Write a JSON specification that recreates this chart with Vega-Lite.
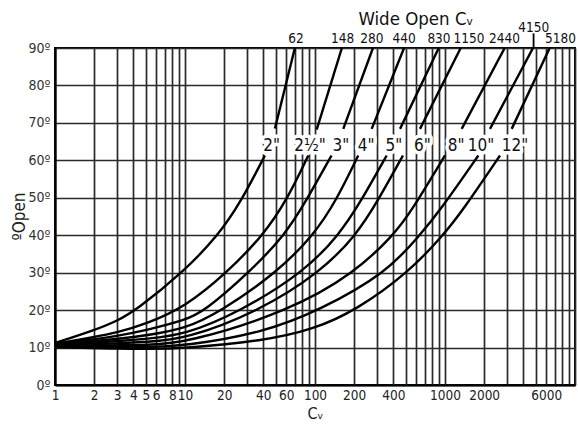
{
  "$schema": "https://vega.github.io/schema/vega-lite/v6.json",
  "width": 520,
  "height": 337,
  "autosize": {"type": "none"},
  "padding": {"left": 55, "top": 48, "right": 3, "bottom": 39},
  "background": "white",
  "config": {
    "view": {"stroke": "black", "strokeWidth": 2},
    "font": "DejaVu Sans Condensed, DejaVu Sans, sans-serif"
  },
  "datasets": {
    "curves": [
      {"size": "2", "part": "a", "cv": 1, "deg": 11.2},
      {"size": "2", "part": "a", "cv": 2, "deg": 14.6},
      {"size": "2", "part": "a", "cv": 3, "deg": 17.1},
      {"size": "2", "part": "a", "cv": 4.2, "deg": 20},
      {"size": "2", "part": "a", "cv": 9.6, "deg": 30},
      {"size": "2", "part": "a", "cv": 18.1, "deg": 40},
      {"size": "2", "part": "a", "cv": 27, "deg": 49},
      {"size": "2", "part": "a", "cv": 41.2, "deg": 61.3},
      {"size": "2", "part": "b", "cv": 49.2, "deg": 68.5},
      {"size": "2", "part": "b", "cv": 70, "deg": 90},

      {"size": "2.5", "part": "a", "cv": 1, "deg": 11},
      {"size": "2.5", "part": "a", "cv": 2, "deg": 12.8},
      {"size": "2.5", "part": "a", "cv": 3, "deg": 14},
      {"size": "2.5", "part": "a", "cv": 5, "deg": 16.3},
      {"size": "2.5", "part": "a", "cv": 10, "deg": 20.8},
      {"size": "2.5", "part": "a", "cv": 21, "deg": 30},
      {"size": "2.5", "part": "a", "cv": 40, "deg": 40},
      {"size": "2.5", "part": "a", "cv": 60.6, "deg": 49.3},
      {"size": "2.5", "part": "a", "cv": 88.8, "deg": 61.3},
      {"size": "2.5", "part": "b", "cv": 103, "deg": 68.2},
      {"size": "2.5", "part": "b", "cv": 161, "deg": 90},

      {"size": "3", "part": "a", "cv": 1, "deg": 10.9},
      {"size": "3", "part": "a", "cv": 2, "deg": 12.2},
      {"size": "3", "part": "a", "cv": 3, "deg": 13.1},
      {"size": "3", "part": "a", "cv": 5, "deg": 14.6},
      {"size": "3", "part": "a", "cv": 10, "deg": 17.3},
      {"size": "3", "part": "a", "cv": 14, "deg": 19.6},
      {"size": "3", "part": "a", "cv": 31, "deg": 30},
      {"size": "3", "part": "a", "cv": 58.7, "deg": 40},
      {"size": "3", "part": "a", "cv": 86, "deg": 49.3},
      {"size": "3", "part": "a", "cv": 134, "deg": 61.3},
      {"size": "3", "part": "b", "cv": 165, "deg": 68.4},
      {"size": "3", "part": "b", "cv": 279, "deg": 90},

      {"size": "4", "part": "a", "cv": 1, "deg": 10.8},
      {"size": "4", "part": "a", "cv": 2, "deg": 11.7},
      {"size": "4", "part": "a", "cv": 3, "deg": 12.3},
      {"size": "4", "part": "a", "cv": 5, "deg": 13.2},
      {"size": "4", "part": "a", "cv": 10, "deg": 15},
      {"size": "4", "part": "a", "cv": 18.6, "deg": 19.5},
      {"size": "4", "part": "a", "cv": 50.7, "deg": 30},
      {"size": "4", "part": "a", "cv": 97.6, "deg": 40},
      {"size": "4", "part": "a", "cv": 146, "deg": 49.3},
      {"size": "4", "part": "a", "cv": 215, "deg": 61.3},
      {"size": "4", "part": "b", "cv": 273, "deg": 68.4},
      {"size": "4", "part": "b", "cv": 484, "deg": 90},

      {"size": "5", "part": "a", "cv": 1, "deg": 10.7},
      {"size": "5", "part": "a", "cv": 2, "deg": 11.3},
      {"size": "5", "part": "a", "cv": 3, "deg": 11.7},
      {"size": "5", "part": "a", "cv": 5, "deg": 12.3},
      {"size": "5", "part": "a", "cv": 10, "deg": 13.4},
      {"size": "5", "part": "a", "cv": 26.5, "deg": 19.6},
      {"size": "5", "part": "a", "cv": 81, "deg": 30},
      {"size": "5", "part": "a", "cv": 153, "deg": 40},
      {"size": "5", "part": "a", "cv": 228, "deg": 49.3},
      {"size": "5", "part": "a", "cv": 356, "deg": 61.3},
      {"size": "5", "part": "b", "cv": 451, "deg": 68.4},
      {"size": "5", "part": "b", "cv": 895, "deg": 90},

      {"size": "6", "part": "a", "cv": 1, "deg": 10.6},
      {"size": "6", "part": "a", "cv": 2, "deg": 10.9},
      {"size": "6", "part": "a", "cv": 3, "deg": 11.1},
      {"size": "6", "part": "a", "cv": 5, "deg": 11.5},
      {"size": "6", "part": "a", "cv": 10, "deg": 12.2},
      {"size": "6", "part": "a", "cv": 36.6, "deg": 19.6},
      {"size": "6", "part": "a", "cv": 109, "deg": 30},
      {"size": "6", "part": "a", "cv": 208, "deg": 40},
      {"size": "6", "part": "a", "cv": 306, "deg": 49.3},
      {"size": "6", "part": "a", "cv": 475, "deg": 61.3},
      {"size": "6", "part": "b", "cv": 642, "deg": 68.4},
      {"size": "6", "part": "b", "cv": 1321, "deg": 90},

      {"size": "8", "part": "a", "cv": 1, "deg": 10.5},
      {"size": "8", "part": "a", "cv": 2, "deg": 10.5},
      {"size": "8", "part": "a", "cv": 3, "deg": 10.6},
      {"size": "8", "part": "a", "cv": 5, "deg": 10.7},
      {"size": "8", "part": "a", "cv": 10, "deg": 11.1},
      {"size": "8", "part": "a", "cv": 64, "deg": 19.8},
      {"size": "8", "part": "a", "cv": 203, "deg": 30},
      {"size": "8", "part": "a", "cv": 400, "deg": 40},
      {"size": "8", "part": "a", "cv": 538, "deg": 45.8},
      {"size": "8", "part": "a", "cv": 1000, "deg": 61.3},
      {"size": "8", "part": "b", "cv": 1344, "deg": 68.4},
      {"size": "8", "part": "b", "cv": 2878, "deg": 90},

      {"size": "10", "part": "a", "cv": 1, "deg": 10.3},
      {"size": "10", "part": "a", "cv": 2, "deg": 10.2},
      {"size": "10", "part": "a", "cv": 3, "deg": 10.1},
      {"size": "10", "part": "a", "cv": 5, "deg": 10.1},
      {"size": "10", "part": "a", "cv": 10, "deg": 10.4},
      {"size": "10", "part": "a", "cv": 40, "deg": 14},
      {"size": "10", "part": "a", "cv": 109, "deg": 20},
      {"size": "10", "part": "a", "cv": 356, "deg": 30},
      {"size": "10", "part": "a", "cv": 640, "deg": 40},
      {"size": "10", "part": "a", "cv": 920, "deg": 46.7},
      {"size": "10", "part": "a", "cv": 1805, "deg": 61.3},
      {"size": "10", "part": "b", "cv": 2219, "deg": 68.4},
      {"size": "10", "part": "b", "cv": 4753, "deg": 90},

      {"size": "12", "part": "a", "cv": 1, "deg": 10.1},
      {"size": "12", "part": "a", "cv": 2, "deg": 9.9},
      {"size": "12", "part": "a", "cv": 3, "deg": 9.7},
      {"size": "12", "part": "a", "cv": 5, "deg": 9.6},
      {"size": "12", "part": "a", "cv": 10, "deg": 9.8},
      {"size": "12", "part": "a", "cv": 40, "deg": 11.8},
      {"size": "12", "part": "a", "cv": 97, "deg": 14.8},
      {"size": "12", "part": "a", "cv": 208, "deg": 20},
      {"size": "12", "part": "a", "cv": 522, "deg": 30},
      {"size": "12", "part": "a", "cv": 970, "deg": 40},
      {"size": "12", "part": "a", "cv": 1372, "deg": 46.7},
      {"size": "12", "part": "a", "cv": 2649, "deg": 61.3},
      {"size": "12", "part": "b", "cv": 3258, "deg": 68.4},
      {"size": "12", "part": "b", "cv": 6385, "deg": 90}
    ],
    "sizeLabels": [
      {"label": "2\"", "cv": 46.4, "deg": 62.5},
      {"label": "2½\"", "cv": 91.6, "deg": 62.5},
      {"label": "3\"", "cv": 158, "deg": 62.5},
      {"label": "4\"", "cv": 247, "deg": 62.5},
      {"label": "5\"", "cv": 405, "deg": 62.5},
      {"label": "6\"", "cv": 671, "deg": 62.5},
      {"label": "8\"", "cv": 1216, "deg": 62.5},
      {"label": "10\"", "cv": 1892, "deg": 62.5},
      {"label": "12\"", "cv": 3455, "deg": 62.5}
    ],
    "openLabels": [
      {"label": "62", "cv": 71.4, "deg": 91.4},
      {"label": "148", "cv": 163, "deg": 91.4},
      {"label": "280", "cv": 274, "deg": 91.4},
      {"label": "440", "cv": 484, "deg": 91.4},
      {"label": "830", "cv": 899, "deg": 91.4},
      {"label": "1150", "cv": 1530, "deg": 91.4},
      {"label": "2440", "cv": 2870, "deg": 91.4},
      {"label": "4150", "cv": 4810, "deg": 94.35},
      {"label": "5180", "cv": 7735, "deg": 91.4}
    ],
    "headline": [
      {"label": "Wide Open Cᵥ", "cv": 598, "deg": 96.1}
    ],
    "marker": [
      {"cv": 4800, "deg": 90, "deg2": 93.9}
    ]
  },
  "encoding": {
    "x": {
      "field": "cv", "type": "quantitative",
      "scale": {"type": "log", "domain": [1, 10000], "nice": false},
      "axis": {
        "values": [1,2,3,4,5,6,7,8,9,10,20,30,40,50,60,70,80,90,100,200,300,400,500,600,700,800,900,1000,2000,3000,4000,5000,6000,7000,8000,9000,10000],
        "labelExpr": "indexof([1,2,3,4,5,6,8,10,20,40,60,100,200,400,1000,2000,6000], datum.value) >= 0 ? format(datum.value, 'd') : ''",
        "grid": true, "gridColor": "#2a2a2a", "gridWidth": 1.7, "gridOpacity": 1,
        "ticks": false, "domain": true, "domainColor": "black", "domainWidth": 2.2,
        "labelFontSize": 13.5, "labelColor": "#222", "labelPadding": 3,
        "labelOverlap": false, "labelFlush": false, "labelBound": false,
        "title": "Cᵥ", "titleFontSize": 16, "titleFontWeight": "normal", "titleColor": "#222",
        "titleY": 33, "titleBaseline": "alphabetic"
      }
    },
    "y": {
      "field": "deg", "type": "quantitative",
      "scale": {"domain": [0, 90], "nice": false},
      "axis": {
        "values": [0,10,20,30,40,50,60,70,80,90],
        "labelExpr": "datum.value + 'º'",
        "grid": true, "gridColor": "#2a2a2a", "gridWidth": 1.7, "gridOpacity": 1,
        "ticks": false, "domain": true, "domainColor": "black", "domainWidth": 2.2,
        "labelFontSize": 14, "labelColor": "#333", "labelPadding": 5,
        "labelOverlap": false, "labelFlush": false, "labelBound": false,
        "title": "ºOpen", "titleFontSize": 17, "titleFontWeight": "normal", "titleColor": "#222",
        "titleAngle": -90, "titleX": -36, "titleY": 168, "titleAlign": "center", "titleBaseline": "middle"
      }
    }
  },
  "layer": [
    {
      "data": {"name": "curves"},
      "mark": {"type": "line", "color": "black", "strokeWidth": 2.4, "interpolate": "basis", "clip": true},
      "encoding": {
        "detail": [{"field": "size"}, {"field": "part"}]
      }
    },
    {
      "data": {"name": "marker"},
      "mark": {"type": "rule", "color": "black", "strokeWidth": 1.8},
      "encoding": {
        "y2": {"field": "deg2"}
      }
    },
    {
      "data": {"name": "sizeLabels"},
      "mark": {"type": "text", "fontSize": 17, "align": "center", "baseline": "alphabetic", "fill": "white", "stroke": "white", "strokeWidth": 7, "strokeJoin": "round"},
      "encoding": {
        "text": {"field": "label"}
      }
    },
    {
      "data": {"name": "sizeLabels"},
      "mark": {"type": "text", "fontSize": 17, "align": "center", "baseline": "alphabetic", "color": "#111"},
      "encoding": {
        "text": {"field": "label"}
      }
    },
    {
      "data": {"name": "openLabels"},
      "mark": {"type": "text", "fontSize": 13.5, "align": "center", "baseline": "alphabetic", "color": "#111"},
      "encoding": {
        "text": {"field": "label"}
      }
    },
    {
      "data": {"name": "headline"},
      "mark": {"type": "text", "fontSize": 18.5, "align": "center", "baseline": "alphabetic", "color": "#111"},
      "encoding": {
        "text": {"field": "label"}
      }
    }
  ]
}
